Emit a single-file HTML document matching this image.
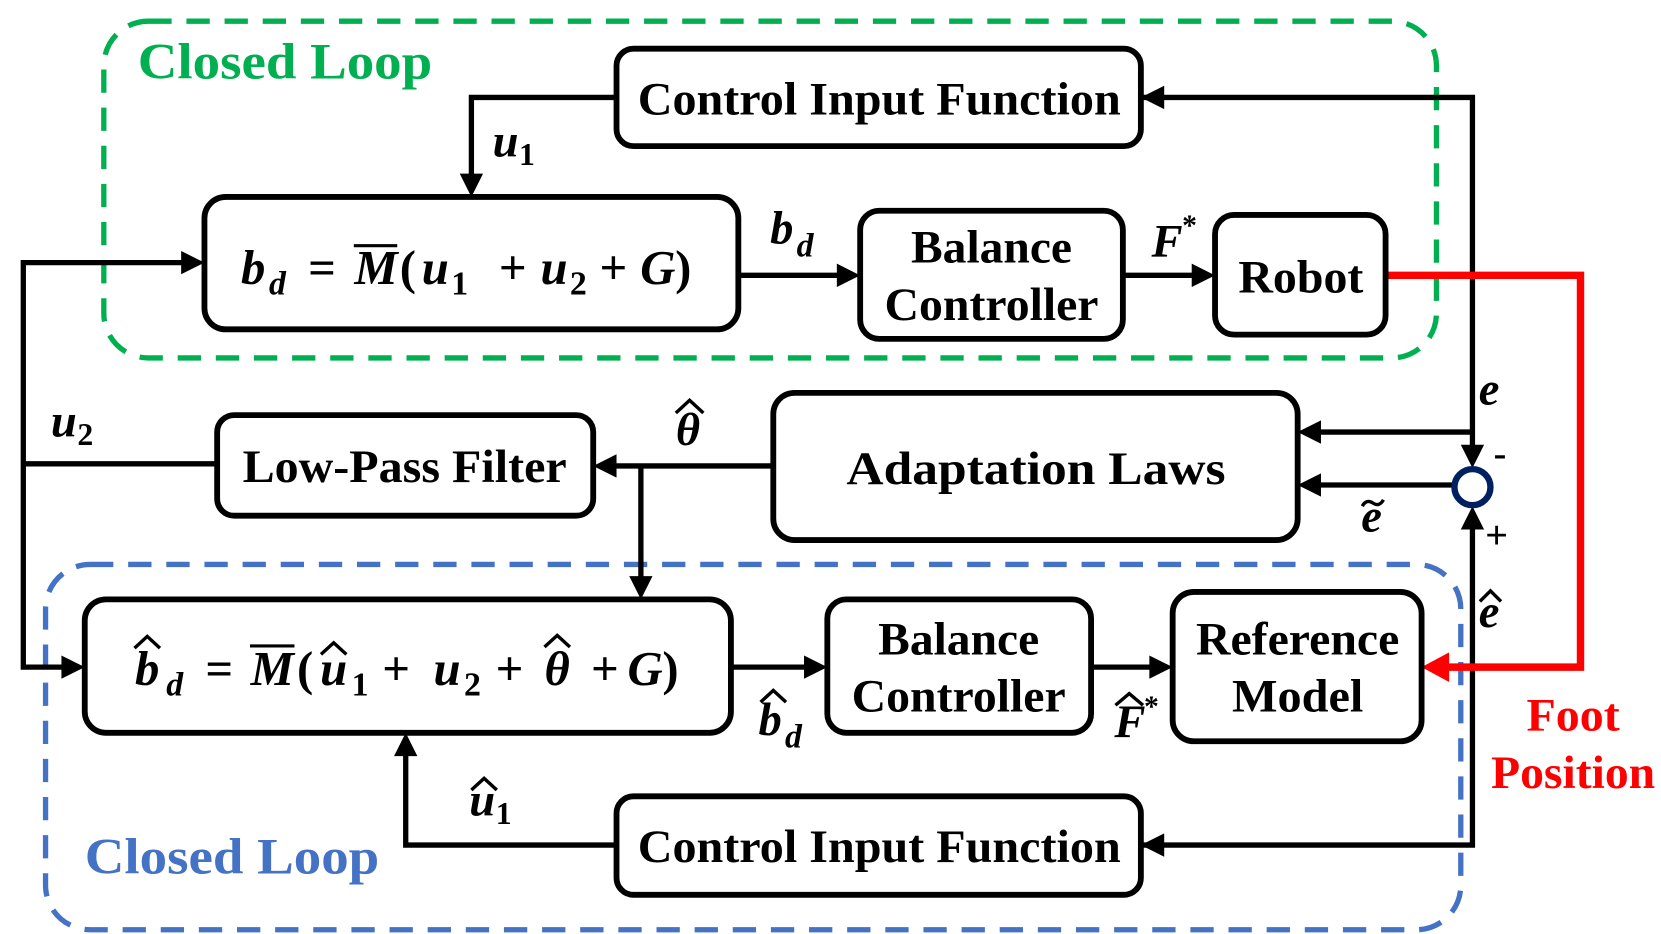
<!DOCTYPE html>
<html><head><meta charset="utf-8"><style>
html,body{margin:0;padding:0;background:#fff;}
svg{display:block;}
text{font-family:"Liberation Serif","Times New Roman",serif;font-weight:bold;}
.m{font-style:italic;}
.n{font-style:normal;}
</style></head><body>
<svg width="1661" height="934" viewBox="0 0 1568 882" preserveAspectRatio="none" xmlns="http://www.w3.org/2000/svg">
<!-- dashed loops -->
<rect x="98" y="20" width="1258" height="318" rx="42" fill="none" stroke="#00B050" stroke-width="5" stroke-dasharray="22,14"/>
<rect x="43" y="533" width="1336" height="345" rx="42" fill="none" stroke="#4472C4" stroke-width="5" stroke-dasharray="22,14"/>
<text x="130" y="74" font-size="48" fill="#00B050" textLength="278" lengthAdjust="spacingAndGlyphs">Closed Loop</text>
<text x="80" y="825" font-size="48" fill="#4472C4" textLength="278" lengthAdjust="spacingAndGlyphs">Closed Loop</text>

<g fill="none" stroke="#000" stroke-width="5" stroke-linejoin="miter">
<polyline points="1077,92 1390,92 1390,430"/>
<line x1="1390" y1="408" x2="1240" y2="408"/>
<line x1="1372" y1="458" x2="1240" y2="458"/>
<polyline points="1077,798 1390,798 1390,492"/>
<polyline points="582,798 383,798 383,706"/>
<polyline points="582,92 445,92 445,172"/>
<line x1="697" y1="260" x2="798" y2="260"/>
<line x1="1060" y1="260" x2="1133" y2="260"/>
<line x1="730" y1="440" x2="575" y2="440"/>
<polyline points="605,440 605,552"/>
<polyline points="205,438 22,438"/>
<polyline points="179,248 22,248 22,630 66,630"/>
<line x1="690" y1="630" x2="767" y2="630"/>
<line x1="1030" y1="630" x2="1093" y2="630"/>
</g>
<g fill="#000">
<polygon points="1077,92 1099,81 1099,103"/>
<polygon points="1225,408 1247,397 1247,419"/>
<polygon points="1225,458 1247,447 1247,469"/>
<polygon points="1390,442 1379,420 1401,420"/>
<polygon points="1390,478 1379,500 1401,500"/>
<polygon points="1077,798 1099,787 1099,809"/>
<polygon points="383,692 372,714 394,714"/>
<polygon points="445,186 434,164 456,164"/>
<polygon points="812,260 790,249 790,271"/>
<polygon points="1147,260 1125,249 1125,271"/>
<polygon points="560,440 582,429 582,451"/>
<polygon points="605,566 594,544 616,544"/>
<polygon points="193,248 171,237 171,259"/>
<polygon points="80,630 58,619 58,641"/>
<polygon points="781,630 759,619 759,641"/>
<polygon points="1107,630 1085,619 1085,641"/>
</g>
<polyline points="1308,260 1492,260 1492,630 1365,630" fill="none" stroke="#FF0000" stroke-width="7"/>
<polygon points="1342,630 1368,616 1368,644" fill="#FF0000"/>
<circle cx="1390" cy="460" r="17" fill="#fff" stroke="#002060" stroke-width="6"/>

<g fill="#fff" stroke="#000" stroke-width="5.5">
<rect x="582" y="46" width="495" height="92" rx="16"/>
<rect x="193" y="186" width="504" height="125" rx="20"/>
<rect x="812" y="199" width="248" height="121" rx="18"/>
<rect x="1147" y="203" width="161" height="113" rx="18"/>
<rect x="205" y="392" width="355" height="95" rx="16"/>
<rect x="730" y="371" width="495" height="139" rx="20"/>
<rect x="80" y="566" width="610" height="126" rx="20"/>
<rect x="781" y="566" width="249" height="126" rx="18"/>
<rect x="1107" y="559" width="235" height="141" rx="20"/>
<rect x="582" y="752" width="495" height="93" rx="16"/>
</g>
<g font-size="44" fill="#000" text-anchor="middle">
<text x="830" y="108" textLength="456" lengthAdjust="spacingAndGlyphs">Control Input Function</text>
<text x="830" y="814" textLength="456" lengthAdjust="spacingAndGlyphs">Control Input Function</text>
<text x="936" y="248" textLength="152" lengthAdjust="spacingAndGlyphs">Balance</text>
<text x="936" y="302" textLength="202" lengthAdjust="spacingAndGlyphs">Controller</text>
<text x="905" y="618" textLength="152" lengthAdjust="spacingAndGlyphs">Balance</text>
<text x="905" y="672" textLength="202" lengthAdjust="spacingAndGlyphs">Controller</text>
<text x="1228" y="276" textLength="118" lengthAdjust="spacingAndGlyphs">Robot</text>
<text x="382" y="455" textLength="306" lengthAdjust="spacingAndGlyphs">Low-Pass Filter</text>
<text x="978" y="457" textLength="358" lengthAdjust="spacingAndGlyphs">Adaptation Laws</text>
<text x="1225" y="618" textLength="192" lengthAdjust="spacingAndGlyphs">Reference</text>
<text x="1225" y="672" textLength="124" lengthAdjust="spacingAndGlyphs">Model</text>
<text x="1485" y="690" fill="#FF0000" textLength="88" lengthAdjust="spacingAndGlyphs">Foot</text>
<text x="1485" y="744" fill="#FF0000" textLength="155" lengthAdjust="spacingAndGlyphs">Position</text>
</g>

<!-- top equation -->
<g font-size="46" fill="#000" text-anchor="middle">
<text x="239" y="268" class="m">b</text>
<text x="262" y="278" class="m" font-size="32">d</text>
<text x="304" y="268" class="n">=</text>
<text x="355" y="268" class="m">M</text>
<text x="385" y="268" class="n">(</text>
<text x="411" y="268" class="m">u</text>
<text x="434" y="278" class="n" font-size="32">1</text>
<text x="484" y="268" class="n">+</text>
<text x="523" y="268" class="m">u</text>
<text x="546" y="278" class="n" font-size="32">2</text>
<text x="579" y="268" class="n">+</text>
<text x="621" y="268" class="m">G</text>
<text x="645" y="268" class="n">)</text>
</g>
<line x1="334" y1="232" x2="375" y2="232" stroke="#000" stroke-width="3"/>

<!-- bottom equation -->
<g font-size="46" fill="#000" text-anchor="middle">
<text x="139" y="647" class="m">b</text>
<text x="165" y="657" class="m" font-size="32">d</text>
<text x="207" y="647" class="n">=</text>
<text x="257" y="647" class="m">M</text>
<text x="288" y="647" class="n">(</text>
<text x="315" y="647" class="m">u</text>
<text x="340" y="657" class="n" font-size="32">1</text>
<text x="374" y="647" class="n">+</text>
<text x="422" y="647" class="m">u</text>
<text x="446" y="657" class="n" font-size="32">2</text>
<text x="481" y="647" class="n">+</text>
<text x="526" y="647" class="m">θ</text>
<text x="571" y="647" class="n">+</text>
<text x="609" y="647" class="m">G</text>
<text x="633" y="647" class="n">)</text>
</g>
<line x1="236" y1="610" x2="278" y2="610" stroke="#000" stroke-width="3"/>

<!-- labels -->
<g font-size="44" fill="#000">
<text x="465" y="148" class="m">u</text><text x="490" y="156" class="n" font-size="30">1</text>
<text x="727" y="230" class="m">b</text><text x="752" y="242" class="m" font-size="32">d</text>
<text x="1087" y="242" class="m">F</text><text x="1116" y="222" class="n" font-size="28" font-weight="normal">*</text>
<text x="1396" y="382" class="m">e</text>
<text x="48" y="412" class="m">u</text><text x="73" y="420" class="n" font-size="30">2</text>
<text x="638" y="420" class="m">θ</text>
<text x="1285" y="502" class="m">e</text>
<text x="1396" y="592" class="m">e</text>
<text x="716" y="694" class="m">b</text><text x="741" y="706" class="m" font-size="32">d</text>
<text x="1052" y="696" class="m">F</text><text x="1080" y="676" class="n" font-size="28" font-weight="normal">*</text>
<text x="443" y="770" class="m">u</text><text x="468" y="778" class="n" font-size="30">1</text>
<text x="1410" y="440" class="n" font-size="36">-</text>
<text x="1402" y="518" class="n" font-size="38">+</text>
</g>
<!-- hats / tildes -->
<g fill="none" stroke="#000" stroke-width="3.2" stroke-linejoin="miter">
<polyline points="638,390 651,378 664,390"/>
<polyline points="1397,568 1407,558 1417,568"/>
<polyline points="718,663 730,652 742,663"/>
<polyline points="1053,666 1066,655 1079,666"/>
<polyline points="445,746 457,735 469,746"/>
<polyline points="127,612 139,601 151,612"/>
<polyline points="303,618 315,607 327,618"/>
<polyline points="514,611 526,600 538,611"/>
<path d="M1286,478 q4,-7 10,-3 q6,4 10,-3"/>
</g>
</svg>
</body></html>
